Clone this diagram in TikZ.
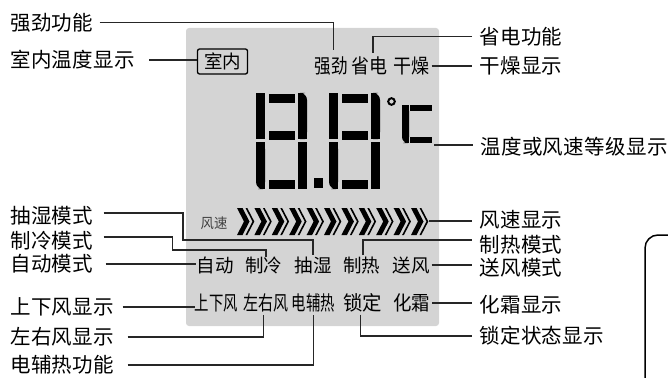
\documentclass[tikz,border=0pt]{standalone}
\usepackage{fontspec}
\newfontfamily\cjk[LetterSpace=2]{Noto Sans CJK SC}
\newfontfamily\lcdcjk{Noto Sans CJK SC}
\definecolor{lcdgray}{RGB}{212,212,212}

\begin{document}
\begin{tikzpicture}[x=1pt, y=-1pt,
		lbl/.style = {font=\cjk\fontsize{20.5pt}{22pt}\selectfont, inner sep=0pt, anchor=west},
		lcd/.style = {font=\lcdcjk\fontsize{18.5pt}{20pt}\selectfont, inner sep=0pt},
		lead/.style = {draw=black!85, line width=1.2pt}]
		\useasboundingbox (0,0) rectangle (668,377);
		
		\fill[lcdgray, rounded corners=3pt] (186,28) rectangle (439,326);
		
		% seven segment digits
		\foreach \dx in {255,328}{
			\fill (\dx+14,94) rectangle (\dx+40,103);
			\fill (\dx+14,131) rectangle (\dx+40,140);
			\fill (\dx+14,180) rectangle (\dx+40,189);
			\fill (\dx+1,93) rectangle (\dx+10,139);
			\fill[rounded corners=7pt] (\dx+43,93) rectangle (\dx+52,139);
			\fill (\dx+43,93) rectangle (\dx+47,139);
			\fill (\dx+43,110) rectangle (\dx+52,139);
			\fill[rounded corners=7pt] (\dx+1,142) rectangle (\dx+10,189);
			\fill (\dx+1,142) rectangle (\dx+10,175);
			\fill (\dx+5,142) rectangle (\dx+10,189);
			\fill (\dx+43,142) rectangle (\dx+52,189);
		}
		\fill (314,178) rectangle (323,188);
		\draw[line width=2pt] (391.5,101.5) circle[radius=3.3];
		\fill[rounded corners=6pt] (402,105) rectangle (409,143);
		\fill (402,105) rectangle (409,130);
		\fill (405,105) rectangle (409,143);
		\fill (410,105) rectangle (432,111);
		\fill (410,137) rectangle (432,143);
		\coordinate (degc) at (434,145);
		
		\foreach \i in {0,...,10}{
			\fill ({237+17.4*\i},208) -- ++(5.5,0) -- ++(7,13.5) -- ++(-7,13.5) -- ++(-5.5,0) -- ++(7,-13.5) -- cycle;
			\fill ({245.5+17.4*\i},208) -- ++(1.8,0) -- ++(7,13.5) -- ++(-7,13.5) -- ++(-1.8,0) -- ++(7,-13.5) -- cycle;
		}
		\coordinate (fsend) at (429,221);
		
		\node[lcd, draw=black, line width=1.3pt, rounded corners=2pt, minimum width=50pt, minimum height=25pt] (sn) at (222.5,61.5) {室内};
		\node[lcd, font=\lcdcjk\fontsize{20pt}{20pt}\selectfont] (qj) at (331.5,66) {\scalebox{0.83}[1]{强劲}};
		\node[lcd, font=\lcdcjk\fontsize{20pt}{20pt}\selectfont] (sd) at (369,66) {\scalebox{0.9}[1]{省电}};
		\node[lcd, font=\lcdcjk\fontsize{20pt}{20pt}\selectfont] (gz) at (411.5,66) {\scalebox{0.9}[1]{干燥}};
		\node[lcd, font=\lcdcjk\fontsize{14pt}{14pt}\selectfont, text=black!75] (fs) at (214,223) {\scalebox{0.95}[1]{风速}};
		\node[lcd] (zd) at (215,265) {自动};
		\node[lcd] (zl) at (263.5,265) {制冷};
		\node[lcd] (cs) at (313,265) {抽湿};
		\node[lcd] (zr) at (361.5,265) {制热};
		\node[lcd] (sf) at (411,265) {送风};
		\node[lcd, font=\lcdcjk\fontsize{20pt}{20pt}\selectfont] (sxf2) at (216.5,303) {\scalebox{0.72}[1]{上下风}};
		\node[lcd, font=\lcdcjk\fontsize{20pt}{20pt}\selectfont] (zyf2) at (265.5,303) {\scalebox{0.75}[1]{左右风}};
		\node[lcd, font=\lcdcjk\fontsize{20pt}{20pt}\selectfont] (dfr2) at (313.5,303) {\scalebox{0.72}[1]{电辅热}};
		\node[lcd, font=\lcdcjk\fontsize{20pt}{20pt}\selectfont] (sd2) at (362.5,303) {\scalebox{0.97}[1]{锁定}};
		\node[lcd, font=\lcdcjk\fontsize{20pt}{20pt}\selectfont] (hs) at (411.5,303) {\scalebox{0.92}[1]{化霜}};
		
		\node[lbl] (gqgn) at (10,22.5) {强劲功能};
		\node[lbl] (swwd) at (10,60) {室内温度显示};
		\node[lbl] (csms) at (10,216) {抽湿模式};
		\node[lbl] (zlms) at (10,241) {制冷模式};
		\node[lbl] (zdms) at (10,264) {自动模式};
		\node[lbl] (sxf) at (10,307) {上下风显示};
		\node[lbl] (zyf) at (10,337) {左右风显示};
		\node[lbl] (dfr) at (10,365) {电辅热功能};
		
		\node[lbl] (sdgn) at (479,36.5) {省电功能};
		\node[lbl] (gzxs) at (479,66) {干燥显示};
		\node[lbl] (wdxs) at (480,147) {温度或风速等级显示};
		\node[lbl] (fsxs) at (479,220) {风速显示};
		\node[lbl] (zrms) at (479,245) {制热模式};
		\node[lbl] (sfms) at (479,268) {送风模式};
		\node[lbl] (hsxs) at (479,305) {化霜显示};
		\node[lbl] (sdzt) at (479,336) {锁定状态显示};
		
		\coordinate (csbend) at (183,240);
		\coordinate (zlbend) at (172.5,250);
		
		\draw[lead] ([xshift=6pt]gqgn.east) -| ([xshift=2pt,yshift=7pt]qj.north);
		\draw[lead] ([xshift=14pt]swwd.east) -- (swwd.east -| sn.west);
		\draw[lead] ([xshift=-7pt]sdgn.west) -| ([xshift=4pt,yshift=4pt]sd.north);
		\draw[lead] ([xshift=2pt]gz.east) -- ([xshift=-7pt]gz.east -| gzxs.west);
		\draw[lead] (degc) -- ([xshift=-7pt]degc -| wdxs.west);
		\draw[lead] (fsend) -- ([xshift=-7pt]fsend -| fsxs.west);
		\draw[lead] ([xshift=1.5pt,yshift=1pt]zr.north) |- ([xshift=-7pt,yshift=5pt]zrms.west);
		\draw[lead] ([xshift=2pt]sf.east) -- ([xshift=-7pt]sf.east -| sfms.west);
		\draw[lead] ([xshift=2pt]hs.east) -- ([xshift=-7pt]hs.east -| hsxs.west);
		\draw[lead] ([xshift=-2pt,yshift=-2pt]sd2.south) |- ([xshift=-7pt]sdzt.west);
		
		\draw[lead] ([xshift=10pt,yshift=3pt]csms.east) -| (csbend) -| ([yshift=1pt]cs.north);
		\draw[lead] ([xshift=10pt,yshift=4pt]zlms.east) -| (zlbend) -| ([xshift=2.5pt,yshift=-1pt]zl.north);
		\draw[lead] ([xshift=12pt]zdms.east) -- (zdms.east -| zd.west);
		\draw[lead] ([xshift=8pt]sxf.east) -- (sxf.east -| sxf2.west);
		\draw[lead] ([xshift=13pt]zyf.east) -| ([xshift=-2pt,yshift=-3pt]zyf2.south);
		\draw[lead] ([xshift=13pt]dfr.east) -| ([yshift=-3pt]dfr2.south);
		
		\draw[line width=1.5pt, rounded corners=13pt] (680,235) -- (645,235) -- (645,390);
	\end{tikzpicture}
\end{document}
